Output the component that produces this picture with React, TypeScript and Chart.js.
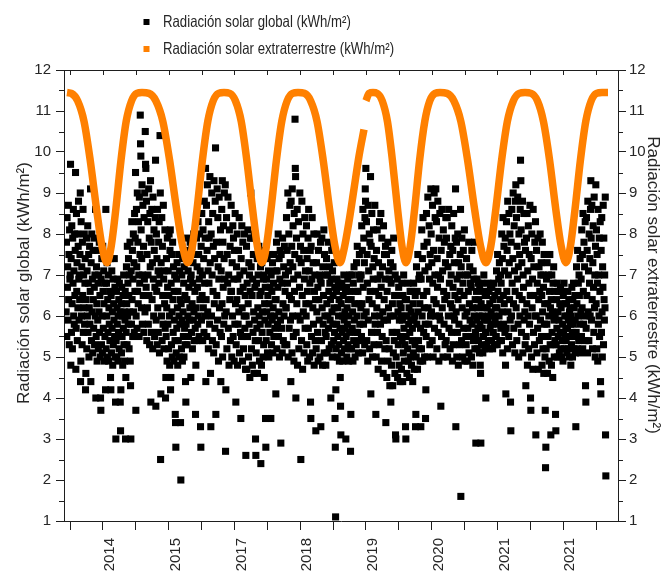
import { useEffect, useRef } from 'react';
import { Chart, registerables } from 'chart.js';

Chart.register(...registerables);

// ---------- DATA ----------
const legendGlobal = 'Radiación solar global (kWh/m²)';
const legendExtra = 'Radiación solar extraterrestre (kWh/m²)';

const xTickDays = [30, 194, 359, 523, 688, 852, 1016, 1181, 1345, 1509, 1674, 1838, 2003, 2167, 2331, 2496, 2660];
const xTickLabels = ['', '2014', '', '2015', '', '2017', '', '2018', '', '2019', '', '2020', '', '2021', '', '2021', ''];
const yMinorTicks = [1.5, 2.5, 3.5, 4.5, 5.5, 6.5, 7.5, 8.5, 9.5, 10.5, 11.5];

// Extraterrestrial radiation (orange band), day index -> kWh/m2 (null = missing)
const extraDays = [
  15, 37, 68, 100, 131, 163, 190, 215,
  236, 259, 285, 311, 338, 364, 390,
  425, 459, 494, 528, 563, 593, 620,
  642, 665, 692, 719, 746, 773, 800,
  829, 857, 886, 914, 943, 967, 990,
  1012, 1035, 1062, 1089, 1116, 1143, 1170,
  1202, 1233, 1265, 1296, 1328, 1355, 1380,
  1399, 1425, 1450, 1475, 1500, 1505, 1510, 1525, 1545,
  1566, 1591, 1617, 1642, 1668, 1690, 1710,
  1731, 1753, 1778, 1804, 1829, 1855, 1880,
  1915, 1949, 1984, 2018, 2053, 2083, 2110,
  2134, 2159, 2188, 2217, 2247, 2276, 2305,
  2336, 2367, 2397, 2428, 2459, 2486, 2510,
  2532, 2555, 2582, 2609, 2636, 2663, 2690, 2720,
];
const extraValues: (number | null)[] = [
  11.45, 11.43, 11.25, 10.75, 9.8, 8.6, 7.7, 7.3,
  7.7, 8.6, 9.8, 10.75, 11.25, 11.43, 11.45,
  11.43, 11.25, 10.75, 9.8, 8.6, 7.7, 7.3,
  7.7, 8.6, 9.8, 10.75, 11.25, 11.43, 11.45,
  11.43, 11.25, 10.75, 9.8, 8.6, 7.7, 7.3,
  7.7, 8.6, 9.8, 10.75, 11.25, 11.43, 11.45,
  11.43, 11.25, 10.75, 9.8, 8.6, 7.7, 7.3,
  7.6, 8.3, 9.1, 9.9, 10.55, null, 11.25, 11.43, 11.45,
  11.43, 11.25, 10.75, 9.8, 8.6, 7.7, 7.3,
  7.7, 8.6, 9.8, 10.75, 11.25, 11.43, 11.45,
  11.43, 11.25, 10.75, 9.8, 8.6, 7.7, 7.3,
  7.7, 8.6, 9.8, 10.75, 11.25, 11.43, 11.45,
  11.43, 11.25, 10.75, 9.8, 8.6, 7.7, 7.3,
  7.7, 8.6, 9.8, 10.75, 11.25, 11.43, 11.45, 11.45,
];

// Global radiation (black squares): daily values read per 25-day block
const globalStartDay = 10;
const globalBlockDays = 25;
const globalBlocks: number[][] = [
  [6.1, 7.8, 5.5, 8.4, 6.7, 7.2, 5.9, 8.7, 6.4, 7.5, 5.3, 8.1, 6.9, 7.0, 9.7, 4.8],
  [7.4, 5.6, 8.2, 6.3, 5.2, 7.9, 6.8, 8.6, 6.0, 7.1, 5.8, 8.0, 6.5, 7.6, 9.5, 4.7],
  [5.7, 8.5, 6.6, 7.3, 5.4, 8.0, 6.2, 7.7, 8.8, 6.9, 5.9, 7.0, 6.4, 7.5, 9.0, 4.4, 4.9],
  [8.3, 6.0, 7.2, 5.3, 7.8, 6.5, 8.6, 5.6, 7.0, 6.2, 8.0, 5.8, 6.8, 7.4, 4.2, 4.6],
  [6.4, 7.9, 5.2, 7.1, 6.0, 8.2, 5.6, 6.8, 7.5, 5.0, 6.2, 7.7, 5.8, 6.6, 9.1, 4.4],
  [7.3, 5.4, 8.0, 6.1, 6.9, 5.1, 7.6, 6.4, 5.7, 7.9, 6.7, 5.3, 7.0, 6.0, 8.6, 4.0],
  [5.5, 7.2, 6.3, 4.9, 7.6, 5.9, 6.8, 5.2, 7.0, 6.1, 7.8, 5.6, 6.5, 5.0, 4.0, 3.7],
  [6.9, 5.3, 7.4, 6.0, 5.1, 7.7, 6.6, 5.7, 7.1, 6.3, 4.9, 6.8, 5.5, 7.5, 4.2, 8.6],
  [5.2, 6.8, 6.0, 7.3, 5.0, 6.4, 5.6, 7.0, 4.9, 6.2, 5.8, 6.6, 5.4, 7.4, 4.5, 4.2],
  [6.5, 5.1, 7.1, 5.7, 6.1, 4.8, 6.9, 5.3, 6.3, 5.9, 7.4, 5.5, 6.7, 5.0, 3.9, 3.0],
  [5.4, 6.6, 5.0, 6.2, 5.8, 6.9, 4.9, 6.0, 5.6, 6.4, 5.2, 6.8, 5.5, 6.1, 3.9, 3.2, 4.2],
  [6.3, 5.1, 6.7, 5.5, 6.0, 4.8, 6.5, 5.7, 7.0, 5.3, 6.1, 4.9, 5.9, 6.6, 3.0, 4.5],
  [5.6, 7.2, 6.3, 5.3, 7.7, 6.0, 6.8, 5.8, 7.4, 6.5, 5.2, 7.0, 6.1, 7.8, 4.9, 4.3, 3.0],
  [7.1, 5.8, 8.3, 6.4, 7.6, 5.5, 6.9, 8.0, 6.1, 7.3, 5.6, 8.5, 6.6, 7.9, 9.5, 3.7],
  [6.0, 8.6, 7.2, 5.7, 9.0, 6.6, 7.8, 6.3, 8.3, 7.0, 5.5, 8.9, 6.8, 7.5, 10.9, 10.2, 9.9],
  [8.1, 6.2, 7.4, 9.2, 5.8, 7.0, 8.7, 6.5, 7.7, 5.6, 8.4, 6.9, 9.0, 6.1, 10.5, 9.7, 9.6],
  [6.7, 8.8, 5.4, 7.5, 6.2, 8.3, 7.0, 5.8, 9.1, 6.5, 7.9, 5.3, 8.5, 7.2, 9.3, 3.9],
  [7.8, 5.6, 8.6, 6.4, 7.3, 5.2, 8.9, 6.9, 6.0, 8.1, 7.6, 5.5, 6.7, 8.4, 9.8, 3.8],
  [5.9, 8.0, 6.6, 7.4, 5.3, 8.6, 6.2, 7.1, 5.6, 7.8, 6.8, 8.3, 5.1, 7.0, 10.4, 9.0, 2.5, 4.1],
  [7.3, 6.0, 8.4, 5.4, 7.7, 6.5, 5.8, 8.7, 6.9, 5.2, 7.1, 6.3, 8.1, 5.7, 4.0, 4.5],
  [5.5, 7.4, 6.2, 4.9, 7.9, 6.7, 5.8, 7.1, 5.2, 6.5, 8.0, 6.0, 4.8, 7.6, 8.1, 4.2, 4.5],
  [6.8, 5.3, 7.5, 6.1, 5.0, 7.8, 6.4, 5.6, 7.2, 4.9, 6.6, 5.9, 7.0, 5.4, 3.6, 3.4, 2.8],
  [5.1, 6.9, 5.7, 7.3, 6.2, 4.8, 6.6, 5.4, 7.5, 6.0, 5.0, 7.1, 5.8, 6.4, 3.4, 2.0],
  [6.3, 5.2, 7.0, 5.9, 4.9, 7.4, 6.1, 5.5, 6.8, 5.0, 7.2, 5.7, 6.5, 5.3, 4.4, 3.9],
  [5.8, 7.6, 6.4, 5.3, 7.9, 6.0, 7.1, 5.5, 6.7, 7.4, 5.9, 6.2, 7.8, 6.9, 4.5],
  [7.0, 5.6, 7.7, 6.3, 5.2, 6.8, 7.3, 5.9, 8.0, 6.1, 5.4, 7.5, 6.6, 5.7, 3.6, 4.8],
  [6.2, 7.9, 5.4, 7.2, 6.7, 5.8, 8.3, 6.0, 7.5, 5.5, 6.9, 8.0, 6.4, 7.1, 3.3, 2.8],
  [7.7, 5.9, 8.5, 6.5, 7.0, 5.4, 8.1, 6.2, 7.4, 5.6, 8.8, 6.8, 6.0, 7.9, 9.6, 4.4],
  [6.4, 8.7, 5.5, 7.6, 9.2, 6.1, 7.1, 5.2, 8.3, 6.8, 7.9, 5.8, 9.4, 7.3, 4.6, 3.3],
  [8.0, 6.0, 9.0, 7.0, 5.4, 8.5, 6.6, 7.7, 5.1, 9.3, 6.3, 7.4, 5.7, 8.8, 10.1, 3.6],
  [5.3, 7.8, 6.5, 9.1, 5.9, 8.4, 7.2, 4.9, 6.9, 8.9, 6.2, 7.5, 5.6, 8.1, 4.4],
  [7.1, 5.5, 8.6, 6.3, 9.3, 5.0, 7.8, 6.7, 8.2, 5.8, 7.4, 9.0, 6.0, 6.9, 9.2, 2.7, 4.2],
  [6.1, 8.4, 5.2, 7.5, 6.8, 8.9, 5.7, 7.0, 4.8, 8.1, 6.4, 7.7, 5.4, 6.6],
  [8.7, 6.6, 5.0, 7.3, 6.0, 8.2, 5.5, 7.9, 6.9, 4.9, 7.6, 5.8, 8.5, 6.3, 3.9],
  [5.3, 7.2, 6.4, 8.0, 4.8, 6.9, 5.8, 7.6, 6.1, 8.4, 5.1, 7.0, 6.6, 5.6, 3.5],
  [7.4, 5.5, 8.2, 6.2, 4.9, 7.8, 6.7, 5.2, 7.1, 6.0, 8.0, 5.7, 6.5, 4.7, 2.6],
  [6.0, 7.7, 4.7, 6.8, 5.5, 8.1, 6.3, 5.0, 7.3, 5.8, 7.0, 4.5, 6.6, 7.9, 9.0],
  [7.2, 5.2, 7.9, 6.5, 4.8, 6.9, 5.6, 7.5, 6.1, 4.6, 8.0, 5.9, 6.7, 5.4, 3.0, 2.6],
  [5.1, 6.8, 5.7, 7.4, 4.6, 6.2, 7.0, 5.4, 7.7, 6.0, 4.9, 6.5, 5.8, 7.2, 2.4],
  [6.6, 4.8, 7.3, 5.6, 6.1, 7.6, 5.0, 6.9, 5.3, 7.0, 4.5, 6.3, 5.9, 6.7, 3.5, 2.8],
  [5.4, 6.9, 6.1, 7.4, 5.1, 6.5, 5.8, 7.1, 5.0, 6.3, 7.5, 5.6, 6.7, 6.0, 3.5],
  [7.0, 5.3, 6.6, 5.9, 7.3, 5.1, 6.2, 6.8, 5.5, 7.5, 6.0, 5.7, 6.4, 7.1, 4.1],
  [6.4, 7.8, 5.2, 7.1, 5.8, 6.7, 8.0, 5.5, 6.1, 7.4, 5.0, 6.9, 7.6, 5.9, 2.9],
  [7.5, 5.7, 6.8, 5.1, 7.9, 6.3, 5.4, 7.2, 6.0, 7.7, 5.3, 6.6, 7.0, 6.2],
  [6.2, 8.4, 5.3, 7.6, 6.8, 9.0, 5.0, 7.1, 8.0, 5.7, 6.5, 8.7, 7.3, 5.9, 4.4],
  [8.8, 6.4, 7.7, 5.1, 9.1, 6.0, 7.2, 8.2, 5.5, 6.9, 4.9, 8.5, 6.6, 7.5, 10.8, 9.6, 9.4, 4.0],
  [5.6, 7.9, 6.3, 8.6, 4.8, 7.0, 6.0, 8.3, 5.2, 7.4, 6.7, 9.0, 5.9, 7.7, 2.5],
  [7.3, 5.4, 8.8, 6.5, 4.7, 8.0, 6.1, 7.6, 5.1, 6.9, 8.4, 5.7, 7.1, 6.3],
  [6.0, 8.2, 5.3, 7.4, 6.6, 4.9, 7.9, 5.7, 8.6, 6.3, 7.1, 5.0, 6.8, 7.6, 3.9, 3.5],
  [7.7, 5.5, 6.9, 8.4, 5.1, 6.2, 7.3, 5.8, 8.0, 4.8, 6.6, 7.0, 5.4, 6.4, 3.2],
  [5.2, 7.3, 6.1, 8.0, 5.6, 6.7, 4.9, 7.6, 6.4, 5.9, 7.0, 5.0, 6.9, 7.8, 3.3],
  [6.8, 5.4, 7.9, 6.2, 4.8, 7.2, 5.8, 6.5, 8.1, 5.1, 7.5, 6.0, 5.6, 7.0, 4.8],
  [5.5, 7.4, 6.3, 5.1, 7.0, 6.0, 7.8, 5.7, 6.6, 5.2, 7.2, 6.8, 5.9, 6.4, 4.0],
  [6.9, 5.3, 7.6, 6.1, 5.0, 7.1, 5.8, 6.5, 7.7, 5.4, 6.2, 7.3, 5.6, 6.7, 3.5, 2.8, 1.1, 4.2],
  [5.2, 6.6, 5.8, 6.9, 5.0, 6.2, 5.5, 6.8, 6.0, 5.3, 6.4, 4.9, 6.7, 5.7, 4.5, 3.8, 3.1],
  [6.3, 5.1, 6.8, 5.6, 6.0, 4.9, 6.5, 5.4, 7.0, 5.9, 5.2, 6.1, 5.7, 6.6, 3.0],
  [5.5, 6.7, 5.0, 6.2, 5.8, 6.9, 5.3, 6.4, 4.9, 6.0, 6.6, 5.6, 7.0, 5.2, 2.7, 3.6],
  [6.4, 5.2, 7.0, 5.7, 6.1, 4.9, 6.8, 5.4, 7.2, 5.9, 6.3, 5.0, 6.6, 5.6],
  [5.3, 7.3, 6.0, 7.7, 5.6, 6.6, 5.1, 7.0, 6.3, 7.5, 5.8, 6.9, 5.4, 6.2],
  [7.0, 5.5, 8.2, 6.3, 7.6, 5.1, 8.6, 6.7, 5.8, 7.9, 6.0, 7.3, 5.3, 8.4, 9.1, 8.8, 9.6],
  [6.1, 8.3, 5.4, 7.5, 6.8, 4.9, 8.7, 5.9, 7.1, 6.4, 8.0, 5.2, 7.8, 6.6, 9.4, 4.1],
  [7.7, 5.6, 8.5, 6.3, 5.0, 7.2, 6.9, 8.1, 5.3, 7.4, 6.0, 8.7, 5.8, 6.6, 3.6],
  [5.0, 7.6, 6.2, 8.1, 5.6, 6.9, 4.7, 7.3, 6.5, 5.3, 8.3, 6.0, 7.0, 5.8, 8.5],
  [6.7, 4.9, 7.9, 5.5, 7.2, 6.1, 4.6, 8.2, 5.9, 6.4, 7.5, 5.2, 6.9, 7.7, 3.4],
  [5.4, 7.5, 4.5, 6.6, 5.9, 7.8, 4.9, 6.2, 7.1, 5.2, 6.9, 4.3, 6.0, 7.3, 3.9],
  [6.8, 4.8, 7.6, 5.6, 6.3, 4.3, 7.2, 5.1, 7.9, 6.0, 5.4, 6.5, 4.6, 7.0, 3.1, 3.0],
  [5.0, 6.5, 5.6, 6.9, 4.5, 6.1, 5.3, 6.7, 4.8, 5.9, 6.3, 4.4, 5.5, 6.0],
  [6.2, 4.7, 6.8, 5.4, 5.9, 4.4, 6.5, 5.1, 7.0, 5.7, 4.9, 6.0, 5.3, 6.4, 3.3, 3.0],
  [5.5, 6.4, 4.6, 6.0, 5.2, 6.8, 4.9, 5.8, 6.2, 4.5, 5.6, 6.6, 5.0, 5.9],
  [6.1, 4.8, 6.6, 5.4, 5.7, 4.4, 6.3, 5.1, 6.8, 5.9, 4.7, 6.0, 5.3, 6.5, 3.3, 3.6],
  [5.0, 7.2, 5.8, 6.6, 4.7, 7.5, 6.1, 5.4, 6.9, 5.2, 7.0, 6.3, 4.9, 5.7, 3.3],
  [6.9, 5.2, 8.1, 6.0, 7.4, 4.9, 8.4, 6.5, 5.6, 7.7, 6.2, 5.0, 7.1, 5.8, 3.5, 4.2],
  [5.5, 8.5, 6.6, 7.8, 5.0, 8.9, 6.2, 7.2, 5.8, 8.2, 6.9, 5.3, 7.5, 6.0, 9.1],
  [8.0, 6.1, 7.3, 5.4, 8.7, 6.8, 5.0, 7.6, 6.4, 9.0, 5.7, 7.0, 8.4, 6.0, 9.1],
  [6.3, 8.3, 5.2, 7.4, 6.7, 8.8, 5.6, 7.0, 4.9, 7.9, 6.0, 8.5, 5.9, 6.9, 3.8],
  [7.6, 5.5, 8.6, 6.2, 7.1, 5.0, 8.1, 6.6, 5.8, 7.8, 6.4, 5.3, 7.3, 8.4],
  [5.4, 7.9, 6.5, 8.4, 5.0, 7.2, 6.0, 8.6, 5.7, 6.8, 7.5, 5.2, 6.3, 7.7],
  [7.0, 5.6, 8.2, 6.2, 4.9, 7.6, 6.7, 5.3, 8.5, 6.0, 7.3, 5.9, 6.5, 7.9, 9.1, 3.3],
  [6.1, 7.8, 5.0, 6.9, 5.6, 8.0, 6.4, 4.8, 7.3, 5.8, 7.0, 5.3, 6.6, 7.5, 8.6, 1.6],
  [7.2, 5.4, 7.9, 6.2, 5.0, 6.8, 7.6, 5.7, 6.5, 8.1, 4.9, 6.0, 7.0, 5.5],
  [5.3, 7.4, 6.1, 4.9, 7.0, 5.7, 6.6, 7.8, 5.1, 6.3, 7.2, 5.9, 6.8, 5.5],
  [6.7, 5.0, 7.6, 5.8, 6.2, 4.8, 7.1, 5.4, 6.9, 6.0, 7.8, 5.2, 6.4, 5.6, 2.9],
  [5.5, 6.6, 5.9, 6.9, 5.2, 6.2, 5.7, 6.8, 5.4, 6.4, 6.0, 5.1, 6.7, 5.8, 4.8, 4.6, 2.9],
  [6.3, 5.3, 6.8, 5.7, 6.0, 5.1, 6.6, 5.5, 7.0, 5.9, 6.2, 5.2, 6.5, 5.6, 4.0],
  [5.6, 6.5, 5.3, 6.2, 5.9, 6.8, 5.4, 6.0, 6.6, 5.2, 6.3, 5.7, 6.7, 5.8],
  [6.1, 5.4, 6.7, 5.8, 5.2, 6.4, 5.6, 6.8, 6.0, 5.3, 6.5, 5.9, 6.2, 5.5],
  [5.5, 7.1, 6.2, 5.3, 7.5, 6.6, 5.8, 6.9, 6.0, 7.3, 5.4, 6.4, 7.0, 5.7],
  [6.8, 5.4, 8.0, 6.1, 7.4, 5.1, 8.4, 6.5, 5.8, 7.7, 6.3, 7.1, 5.6, 7.9, 4.8, 4.1],
  [5.7, 8.3, 6.6, 7.6, 5.2, 8.8, 6.1, 7.0, 5.5, 8.5, 7.3, 6.4, 8.0, 5.9, 3.9, 3.2],
  [7.8, 6.0, 8.6, 6.8, 5.3, 7.4, 9.0, 6.3, 5.7, 8.2, 7.1, 5.1, 6.6, 8.8, 9.2],
  [6.2, 8.4, 5.4, 7.7, 6.9, 8.9, 5.8, 7.2, 5.0, 8.0, 6.5, 7.5, 6.0, 8.6, 9.8, 9.3],
  [8.1, 5.6, 7.3, 6.4, 8.8, 5.1, 7.0, 6.7, 8.5, 5.9, 7.8, 6.1, 5.3, 7.6, 4.3],
  [5.5, 7.9, 6.3, 8.5, 4.8, 7.1, 6.0, 8.2, 5.2, 6.8, 7.5, 5.8, 8.7, 6.5, 4.0, 3.7],
  [7.4, 5.0, 8.0, 6.2, 6.9, 4.7, 8.6, 5.6, 7.2, 6.5, 5.3, 7.8, 6.0, 8.3, 3.1],
  [6.0, 7.6, 5.1, 6.8, 5.7, 7.9, 4.7, 6.4, 7.2, 5.4, 6.6, 8.0, 5.9, 7.0],
  [7.3, 5.5, 6.5, 4.8, 7.8, 6.1, 5.2, 7.0, 6.7, 4.6, 7.5, 5.8, 6.3, 5.0, 3.7, 2.3, 2.8],
  [5.2, 6.9, 5.8, 7.3, 4.6, 6.3, 5.5, 7.0, 6.0, 4.9, 6.6, 7.5, 5.3, 6.2, 3.1],
  [6.4, 4.8, 7.0, 5.6, 6.1, 4.5, 6.8, 5.3, 7.2, 5.9, 5.0, 6.6, 5.4, 6.0, 3.6, 3.2],
  [5.3, 6.4, 5.7, 6.8, 5.0, 6.1, 5.5, 6.6, 5.9, 5.1, 6.3, 5.6, 6.7, 5.2],
  [6.2, 5.0, 6.6, 5.4, 5.8, 4.9, 6.5, 5.6, 6.8, 5.2, 6.0, 5.5, 6.3, 5.7],
  [5.4, 6.3, 5.1, 6.0, 5.7, 6.6, 5.2, 5.9, 6.4, 5.0, 6.1, 5.5, 6.2, 5.8, 4.8],
  [6.0, 5.3, 6.7, 5.6, 5.0, 6.4, 5.8, 6.8, 5.2, 6.2, 5.5, 6.5, 5.9, 5.1, 3.3],
  [5.6, 7.2, 6.3, 5.2, 7.6, 6.0, 6.8, 5.4, 7.0, 6.5, 5.8, 7.4, 5.1, 6.1],
  [6.9, 5.5, 8.1, 6.2, 7.5, 5.2, 8.5, 6.6, 5.8, 7.8, 6.0, 7.2, 5.4, 8.3, 4.3, 3.9],
  [5.7, 8.4, 6.5, 7.6, 5.1, 8.8, 6.1, 7.1, 5.4, 8.0, 6.8, 7.4, 6.0, 8.6, 9.3],
  [7.9, 5.9, 8.7, 6.4, 5.2, 7.3, 8.2, 6.7, 5.6, 8.9, 6.2, 7.0, 5.0, 7.7, 9.2],
  [6.3, 8.1, 5.2, 7.5, 6.8, 4.9, 8.6, 5.8, 7.0, 6.0, 7.9, 5.5, 6.6, 8.3, 4.4, 4.1],
  [7.6, 5.6, 8.4, 6.1, 5.0, 7.2, 6.7, 8.7, 5.3, 7.9, 6.4, 5.9, 7.0, 6.2, 8.9, 3.1, 2.1],
];

// ---------- STYLE ----------
const FONT = '"Liberation Sans", Arial, Helvetica, sans-serif';
const TEXT = '#262626';
const AXIS = '#1e1e1e';
const ORANGE = '#ff8000';

const decorPlugin = {
  id: 'decor',
  afterDraw(chart: any) {
    const { ctx, chartArea, scales } = chart;
    const { left, right, top } = chartArea;
    ctx.save();
    ctx.strokeStyle = AXIS;
    ctx.lineWidth = 1;
    ctx.beginPath();
    ctx.moveTo(left, Math.round(top) + 0.5);
    ctx.lineTo(right, Math.round(top) + 0.5);
    for (const d of xTickDays) {
      const px = Math.round(scales.x.getPixelForValue(d)) + 0.5;
      ctx.moveTo(px, top);
      ctx.lineTo(px, top + 5);
    }
    for (const v of yMinorTicks) {
      const py = Math.round(scales.y.getPixelForValue(v)) + 0.5;
      ctx.moveTo(left - 5, py);
      ctx.lineTo(left, py);
      ctx.moveTo(right, py);
      ctx.lineTo(right + 5, py);
    }
    ctx.stroke();

    ctx.fillStyle = TEXT;
    ctx.font = `17px ${FONT}`;
    ctx.textAlign = 'center';
    ctx.textBaseline = 'middle';
    ctx.save();
    ctx.translate(24, 283);
    ctx.rotate(-Math.PI / 2);
    ctx.fillText(legendGlobal, 0, 0);
    ctx.restore();
    ctx.save();
    ctx.translate(653, 285);
    ctx.rotate(Math.PI / 2);
    ctx.fillText(legendExtra, 0, 0);
    ctx.restore();

    ctx.fillStyle = '#000';
    ctx.fillRect(143.5, 19, 6, 6);
    ctx.fillStyle = ORANGE;
    ctx.fillRect(143.5, 46, 6, 6);
    ctx.fillStyle = TEXT;
    ctx.font = `16.5px ${FONT}`;
    ctx.textAlign = 'left';
    ctx.save();
    ctx.translate(163, 22);
    ctx.scale(0.8, 1);
    ctx.fillText(legendGlobal, 0, 0);
    ctx.restore();
    ctx.save();
    ctx.translate(163, 49);
    ctx.scale(0.8, 1);
    ctx.fillText(legendExtra, 0, 0);
    ctx.restore();
    ctx.restore();
  },
};

export default function App() {
  const canvasRef = useRef<HTMLCanvasElement | null>(null);

  useEffect(() => {
    if (!canvasRef.current) return;

    const globalPoints: { x: number; y: number }[] = [];
    globalBlocks.forEach((block, k) => {
      block.forEach((v, j) => {
        globalPoints.push({
          x: globalStartDay + k * globalBlockDays + ((j + 0.5) * globalBlockDays) / block.length,
          y: v,
        });
      });
    });
    const extraPoints = extraDays.map((d, i) => ({ x: d, y: extraValues[i] }));

    const tickFont = { family: FONT, size: 15 };
    const gridBase = { display: true, drawOnChartArea: false, drawTicks: true, tickColor: AXIS, tickWidth: 1 };

    const chart = new Chart(canvasRef.current, {
      type: 'scatter',
      data: {
        datasets: [
          {
            type: 'line',
            label: legendExtra,
            data: extraPoints as any,
            borderColor: ORANGE,
            backgroundColor: ORANGE,
            borderWidth: 7.5,
            pointRadius: 0,
            cubicInterpolationMode: 'monotone',
            spanGaps: false,
            fill: false,
            borderCapStyle: 'butt',
            borderJoinStyle: 'round',
            order: 0,
            yAxisID: 'y',
          } as any,
          {
            type: 'scatter',
            label: legendGlobal,
            data: globalPoints,
            backgroundColor: '#000',
            borderColor: '#000',
            borderWidth: 0,
            pointStyle: 'rect',
            pointRadius: 5,
            order: 1,
            yAxisID: 'y',
          } as any,
        ],
      },
      options: {
        animation: false,
        responsive: false,
        maintainAspectRatio: false,
        devicePixelRatio: 1,
        events: [],
        layout: { padding: { top: 70, left: 0, right: 0, bottom: 0 } },
        plugins: { legend: { display: false }, tooltip: { enabled: false }, title: { display: false } },
        scales: {
          x: {
            type: 'linear',
            position: 'bottom',
            min: 0,
            max: 2770,
            afterBuildTicks: (s: any) => {
              s.ticks = xTickDays.map((v) => ({ value: v }));
            },
            afterFit: (s: any) => {
              s.height = 58;
            },
            ticks: {
              autoSkip: false,
              minRotation: 90,
              maxRotation: 90,
              labelOffset: 7,
              padding: 8,
              color: TEXT,
              font: tickFont,
              callback: (_v: any, i: number) => xTickLabels[i] ?? '',
            },
            grid: { ...gridBase, tickLength: 9 },
            border: { display: true, color: AXIS, width: 1 },
          },
          y: {
            type: 'linear',
            position: 'left',
            min: 1,
            max: 12,
            afterFit: (s: any) => {
              s.width = 64;
            },
            ticks: { stepSize: 1, padding: 5, color: TEXT, font: tickFont },
            grid: { ...gridBase, tickLength: 8 },
            border: { display: true, color: AXIS, width: 1 },
          },
          y2: {
            type: 'linear',
            position: 'right',
            min: 1,
            max: 12,
            afterFit: (s: any) => {
              s.width = 53;
            },
            ticks: { stepSize: 1, padding: 3, color: TEXT, font: tickFont },
            grid: { ...gridBase, tickLength: 8 },
            border: { display: true, color: AXIS, width: 1 },
          },
        },
      } as any,
      plugins: [decorPlugin],
    });

    return () => chart.destroy();
  }, []);

  return (
    <div style={{ position: 'fixed', left: 0, top: 0, width: 671, height: 579, background: '#fff' }}>
      <canvas ref={canvasRef} width={671} height={579} style={{ display: 'block' }} />
    </div>
  );
}
